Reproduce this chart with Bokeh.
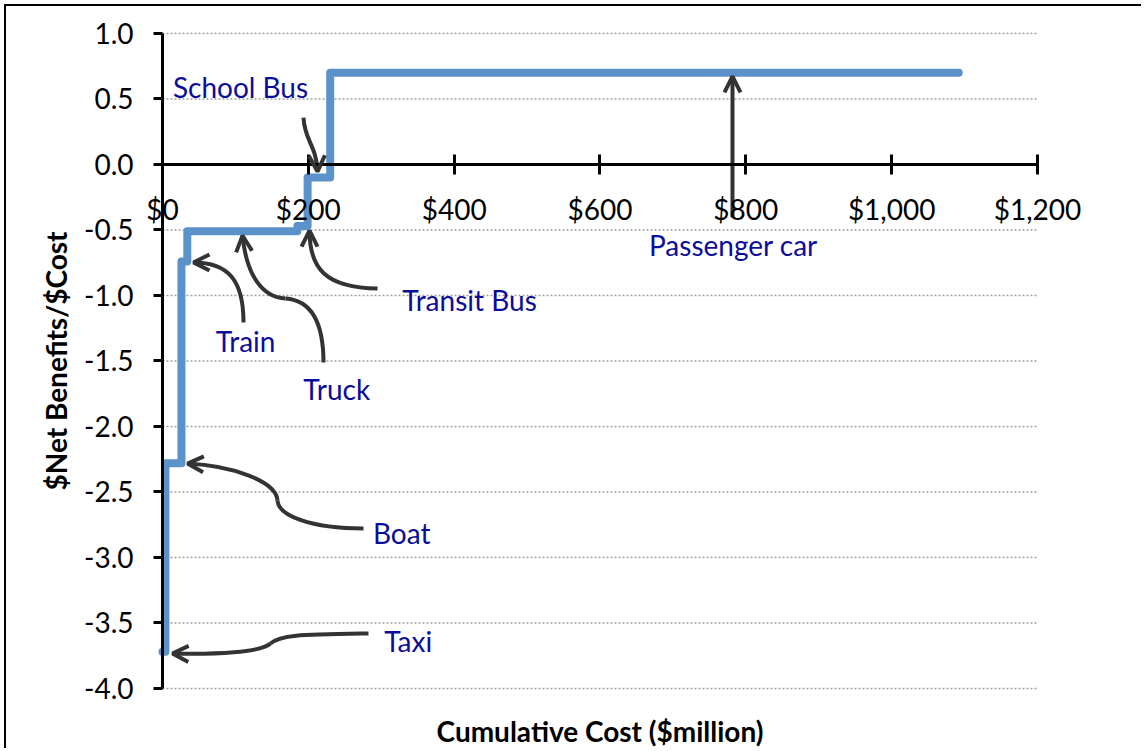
import math
from bokeh.plotting import figure
from bokeh.models import (Range1d, FixedTicker, Arrow, OpenHead, Label, LinearAxis,
                          PrintfTickFormatter)
from bokeh.core.properties import value
from bokeh.embed import file_html
from bokeh.resources import INLINE

# ---------------- data ----------------
vehicles = ["Taxi", "Boat", "Train", "Truck", "Transit Bus", "School Bus", "Passenger car"]
cum_cost = [4, 26, 34, 185, 199, 230, 1092]          # cumulative cost, $million
net_ratio = [-3.72, -2.28, -0.74, -0.51, -0.47, -0.10, 0.70]  # $net benefits / $cost

x_ticks = [0, 200, 400, 600, 800, 1000, 1200]
x_tick_labels = ["$0", "$200", "$400", "$600", "$800", "$1,000", "$1,200"]
y_ticks = [-4.0, -3.5, -3.0, -2.5, -2.0, -1.5, -1.0, -0.5, 0.0, 0.5, 1.0]
y_tick_labels = ["-4.0", "-3.5", "-3.0", "-2.5", "-2.0", "-1.5", "-1.0", "-0.5", "0.0", "0.5", "1.0"]

# annotation label positions (data coords) and arrow paths (tail -> tip, cubic bezier segments)
ann_text = ["School Bus", "Passenger car", "Transit Bus", "Train", "Truck", "Boat", "Taxi"]
ann_x = [107, 783, 421, 114, 239, 328, 337]
ann_y = [0.595, -0.611, -1.031, -1.351, -1.710, -2.813, -3.634]

arrows = [
    [((193.4, 0.358), (194.7, 0.183), (211.2, 0.145), (212.6, -0.054))],
    [((781.7, -0.405), (781.7, -0.1), (781.7, 0.3), (781.7, 0.672))],
    [((294.9, -0.947), (223.5, -0.940), (201.6, -0.795), (201.6, -0.504))],
    [((111.1, -1.206), (111.1, -0.886), (90.5, -0.748), (42.5, -0.748))],
    [((220.8, -1.512), (220.8, -1.268), (209.8, -1.039), (168.7, -1.023)),
     ((168.7, -1.023), (137.1, -1.016), (115.2, -0.848), (109.7, -0.543))],
    [((275.7, -2.779), (203.0, -2.779), (159.1, -2.680), (157.7, -2.566)),
     ((157.7, -2.566), (156.3, -2.413), (93.3, -2.299), (34.3, -2.283))],
    [((282.5, -3.580), (189.3, -3.588), (161.8, -3.588), (148.1, -3.657)),
     ((148.1, -3.657), (134.4, -3.725), (72.7, -3.741), (13.7, -3.733))],
]

# ---------------- style ----------------
FONT = "Lato"
LINE = "#5B92C9"
NAVY = "#0C0C9A"
ARROW_C = "#333333"
GRID_C = "#A0A0A0"

# step path
sx, sy = [], []
prev = 0
for c, r in zip(cum_cost, net_ratio):
    sx += [prev, c]
    sy += [r, r]
    prev = c

W, H = 1137, 744
p = figure(width=W, height=H, output_backend="svg", toolbar_location=None,
           x_range=Range1d(-213.94, 1345.37), y_range=Range1d(-4.4733, 1.2061),
           x_axis_location=None, y_axis_location=None,
           min_border_left=0, min_border_top=0, min_border_right=0, min_border_bottom=0)
p.outline_line_color = None
p.grid.visible = False
p.background_fill_color = "white"
p.border_fill_color = "white"
p.styles = {"margin-left": "4px", "margin-top": "4px",
            "border-left": "2px solid black", "border-top": "2px solid black"}

# y axis (crossing at x = 0)
ya = LinearAxis(fixed_location=0, bounds=(y_ticks[0], y_ticks[-1]))
ya.ticker = FixedTicker(ticks=y_ticks)
ya.formatter = PrintfTickFormatter(format="%.1f")
ya.major_label_overrides = {t: l for t, l in zip(y_ticks, y_tick_labels)}
ya.axis_line_width = 3
ya.axis_line_color = "black"
ya.major_tick_line_width = 3
ya.major_tick_line_color = "black"
ya.major_tick_out = 9
ya.major_tick_in = 0
ya.minor_tick_line_color = None
ya.major_label_text_font = FONT
ya.major_label_text_font_size = "28px"
ya.major_label_text_color = "black"
ya.major_label_standoff = 20
ya.axis_label = "$Net Benefits/$Cost"
ya.axis_label_text_font = FONT
ya.axis_label_text_font_style = "bold"
ya.axis_label_text_font_size = "28px"
ya.axis_label_text_color = "black"
ya.axis_label_standoff = 8
p.add_layout(ya, "left")

# x axis (crossing at y = 0)
xa = LinearAxis(fixed_location=0, bounds=(x_ticks[0], x_ticks[-1]))
xa.ticker = FixedTicker(ticks=x_ticks)
xa.major_label_overrides = {t: l for t, l in zip(x_ticks, x_tick_labels)}
xa.axis_line_width = 3
xa.axis_line_color = "black"
xa.major_tick_line_width = 3
xa.major_tick_line_color = "black"
xa.major_tick_out = 10
xa.major_tick_in = 10
xa.minor_tick_line_color = None
xa.major_label_text_font = FONT
xa.major_label_text_font_size = "28px"
xa.major_label_text_color = "black"
xa.major_label_standoff = 18
p.add_layout(xa, "below")

# dotted horizontal gridlines
p.segment(x0=x_ticks[0], x1=x_ticks[-1], y0=y_ticks, y1=y_ticks,
          line_color=GRID_C, line_width=1.6, line_dash="2 2")

# step line
p.line(sx, sy, line_color=LINE, line_width=8, line_join="round", line_cap="round")

# arrows
for segs in arrows:
    for (P0, C0, C1, P1) in segs:
        p.bezier(x0=[P0[0]], y0=[P0[1]], x1=[P1[0]], y1=[P1[1]],
                 cx0=[C0[0]], cy0=[C0[1]], cx1=[C1[0]], cy1=[C1[1]],
                 line_color=ARROW_C, line_width=4)
    _, _, C1, P1 = segs[-1]
    p.add_layout(Arrow(end=OpenHead(size=16, line_width=4, line_color=ARROW_C),
                       x_start=C1[0], y_start=C1[1], x_end=P1[0], y_end=P1[1],
                       line_alpha=0))

# annotation labels
p.text(x=ann_x, y=ann_y, text=ann_text, text_align="center", text_baseline="middle",
       text_font=value(FONT), text_font_size="28px", text_color=NAVY)

# x axis title
p.add_layout(Label(x=(x_ticks[0] + x_ticks[-1]) / 2, y=y_ticks[0], y_offset=-43,
                   text="Cumulative Cost ($million)", text_align="center", text_baseline="middle",
                   text_font=FONT, text_font_style="bold", text_font_size="28px",
                   text_color="black"))

open("out.html", "w").write(file_html(p, INLINE))
